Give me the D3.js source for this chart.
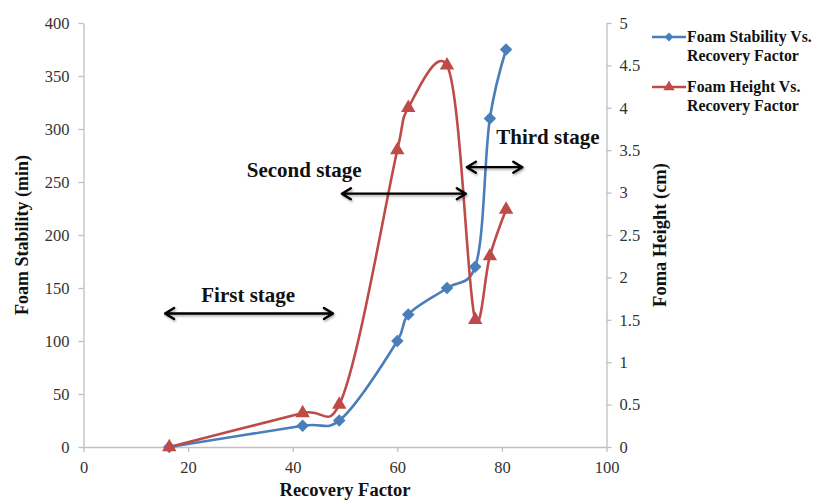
<!DOCTYPE html>
<html>
<head>
<meta charset="utf-8">
<script src="https://cdn.jsdelivr.net/npm/d3@7"></script>
<style>
  html, body { margin: 0; padding: 0; background: #fff; }
  svg { display: block; }
  text { font-family: "Liberation Serif", "Times New Roman", serif; }
</style>
</head>
<body>
<svg id="chart" width="813" height="501"></svg>
<script>
// Recovery factor (%) for each measurement
const recovery = [16.4, 41.9, 48.9, 60.0, 62.1, 69.5, 74.9, 77.7, 80.8];
// Foam stability (min)
const foamStability = [0, 20, 25, 100, 125, 150, 170, 310, 375];
// Foam height (cm)
const foamHeight = [0, 0.4, 0.5, 3.5, 4.0, 4.5, 1.5, 2.25, 2.8];

const xTicks = [0, 20, 40, 60, 80, 100];
const yTicks = [0, 50, 100, 150, 200, 250, 300, 350, 400];
const y2Ticks = [0, 0.5, 1, 1.5, 2, 2.5, 3, 3.5, 4, 4.5, 5];

// Stage annotations: recovery range of each arrow, its height on the
// stability axis, and the label anchor (recovery, stability)
const stageNames = ["First stage", "Second stage", "Third stage"];
const stageFrom = [15.6, 49.4, 73.3];
const stageTo = [47.7, 73.1, 83.9];
const stageLevel = [126, 239, 264];
const stageLabelX = [31.5, 42.2, 88.8];
const stageLabelY = [137, 255, 286];

const legendLabels = [["Foam Stability Vs.", "Recovery Factor"], ["Foam Height Vs.", "Recovery Factor"]];

const blue = "#4a7ebb";
const red = "#be4b48";
const axisGrey = "#bfbfbf";
const tickText = "#333";

const svg = d3.select("#chart");

const plot = { left: 83.5, right: 606.5, top: 23, bottom: 447 };

const x = d3.scaleLinear().domain([0, 100]).range([plot.left, plot.right]);
const y = d3.scaleLinear().domain([0, 400]).range([plot.bottom, plot.top]);
const y2 = d3.scaleLinear().domain([0, 5]).range([plot.bottom, plot.top]);

// soft shadow used on annotation arrows
const defs = svg.append("defs");
const f = defs.append("filter").attr("id", "soft").attr("x", "-10%").attr("y", "-100%").attr("width", "120%").attr("height", "300%");
f.append("feDropShadow").attr("dx", 1).attr("dy", 1.5).attr("stdDeviation", 1.2).attr("flood-color", "#000").attr("flood-opacity", 0.35);

function styleAxis(g) {
  g.selectAll("path.domain").attr("stroke", axisGrey).attr("stroke-width", 1.3);
  g.selectAll(".tick line").attr("stroke", axisGrey).attr("stroke-width", 1.3);
  g.selectAll(".tick text").attr("fill", tickText).attr("font-size", 16.5)
    .attr("font-family", '"Liberation Serif", "Times New Roman", serif');
}

// axes
svg.append("g").attr("transform", `translate(0,${plot.bottom})`)
  .call(d3.axisBottom(x).tickValues(xTicks).tickSize(5).tickSizeOuter(0).tickPadding(9).tickFormat(d3.format("d")))
  .call(styleAxis);

svg.append("g").attr("transform", `translate(${plot.left},0)`)
  .call(d3.axisLeft(y).tickValues(yTicks).tickSize(5).tickSizeOuter(0).tickPadding(9).tickFormat(d3.format("d")))
  .call(styleAxis);

svg.append("g").attr("transform", `translate(${plot.right},0)`)
  .call(d3.axisRight(y2).tickValues(y2Ticks).tickSize(5).tickSizeOuter(0).tickPadding(8).tickFormat(d3.format("~g")))
  .call(styleAxis);

// axis titles
svg.append("text")
  .attr("x", (plot.left + plot.right) / 2).attr("y", 496)
  .attr("text-anchor", "middle").attr("font-weight", "bold").attr("font-size", 18.5)
  .attr("fill", "#111").text("Recovery Factor");

svg.append("text")
  .attr("transform", `translate(28,${(plot.top + plot.bottom) / 2}) rotate(-90)`)
  .attr("text-anchor", "middle").attr("font-weight", "bold").attr("font-size", 18)
  .attr("fill", "#111").text("Foam Stability (min)");

svg.append("text")
  .attr("transform", `translate(666,${(plot.top + plot.bottom) / 2}) rotate(-90)`)
  .attr("text-anchor", "middle").attr("font-weight", "bold").attr("font-size", 18.5)
  .attr("fill", "#111").text("Foma Height (cm)");

// series
const curve = d3.curveCatmullRom.alpha(0.2);
const stabilityPts = recovery.map((r, i) => [r, foamStability[i]]);
const heightPts = recovery.map((r, i) => [r, foamHeight[i]]);

svg.append("path")
  .attr("d", d3.line().x(d => x(d[0])).y(d => y(d[1])).curve(curve)(stabilityPts))
  .attr("fill", "none").attr("stroke", blue).attr("stroke-width", 2.6);

svg.append("path")
  .attr("d", d3.line().x(d => x(d[0])).y(d => y2(d[1])).curve(curve)(heightPts))
  .attr("fill", "none").attr("stroke", red).attr("stroke-width", 2.6);

const diamond = d3.symbol().type(d3.symbolDiamond2).size(100);
const triangle = d3.symbol().type(d3.symbolTriangle).size(90);

svg.append("g").selectAll("path").data(stabilityPts).join("path")
  .attr("transform", d => `translate(${x(d[0])},${y(d[1])})`)
  .attr("d", diamond).attr("fill", blue);

svg.append("g").selectAll("path").data(heightPts).join("path")
  .attr("transform", d => `translate(${x(d[0])},${y2(d[1])})`)
  .attr("d", triangle).attr("fill", red);

// stage arrows
const arrows = svg.append("g").attr("filter", "url(#soft)");
stageNames.forEach((name, i) => {
  const x0 = x(stageFrom[i]), x1 = x(stageTo[i]), yy = y(stageLevel[i]);
  const hl = 9, hw = 5.5;
  arrows.append("path")
    .attr("d", `M${x0},${yy}H${x1}M${x0 + hl},${yy - hw}L${x0},${yy}L${x0 + hl},${yy + hw}M${x1 - hl},${yy - hw}L${x1},${yy}L${x1 - hl},${yy + hw}`)
    .attr("fill", "none").attr("stroke", "#000").attr("stroke-width", 2.4)
    .attr("stroke-linecap", "round").attr("stroke-linejoin", "round");
  svg.append("text")
    .attr("x", x(stageLabelX[i])).attr("y", y(stageLabelY[i]))
    .attr("text-anchor", "middle").attr("font-weight", "bold").attr("font-size", 21)
    .attr("fill", "#111").text(name);
});

// legend
const legend = svg.append("g");
const legendRows = [37, 87];
legendLabels.forEach((lines, i) => {
  const ly = legendRows[i];
  const col = i === 0 ? blue : red;
  legend.append("line").attr("x1", 652).attr("x2", 686).attr("y1", ly).attr("y2", ly)
    .attr("stroke", col).attr("stroke-width", 2.6);
  legend.append("path").attr("transform", `translate(669,${ly})`)
    .attr("d", i === 0 ? d3.symbol().type(d3.symbolDiamond2).size(50)() : d3.symbol().type(d3.symbolTriangle).size(55)())
    .attr("fill", col);
  lines.forEach((t, j) => {
    legend.append("text").attr("x", 687).attr("y", ly + 5 + j * 18.5)
      .attr("font-weight", "bold").attr("font-size", 15.8).attr("fill", "#111").text(t);
  });
});
</script>
</body>
</html>
